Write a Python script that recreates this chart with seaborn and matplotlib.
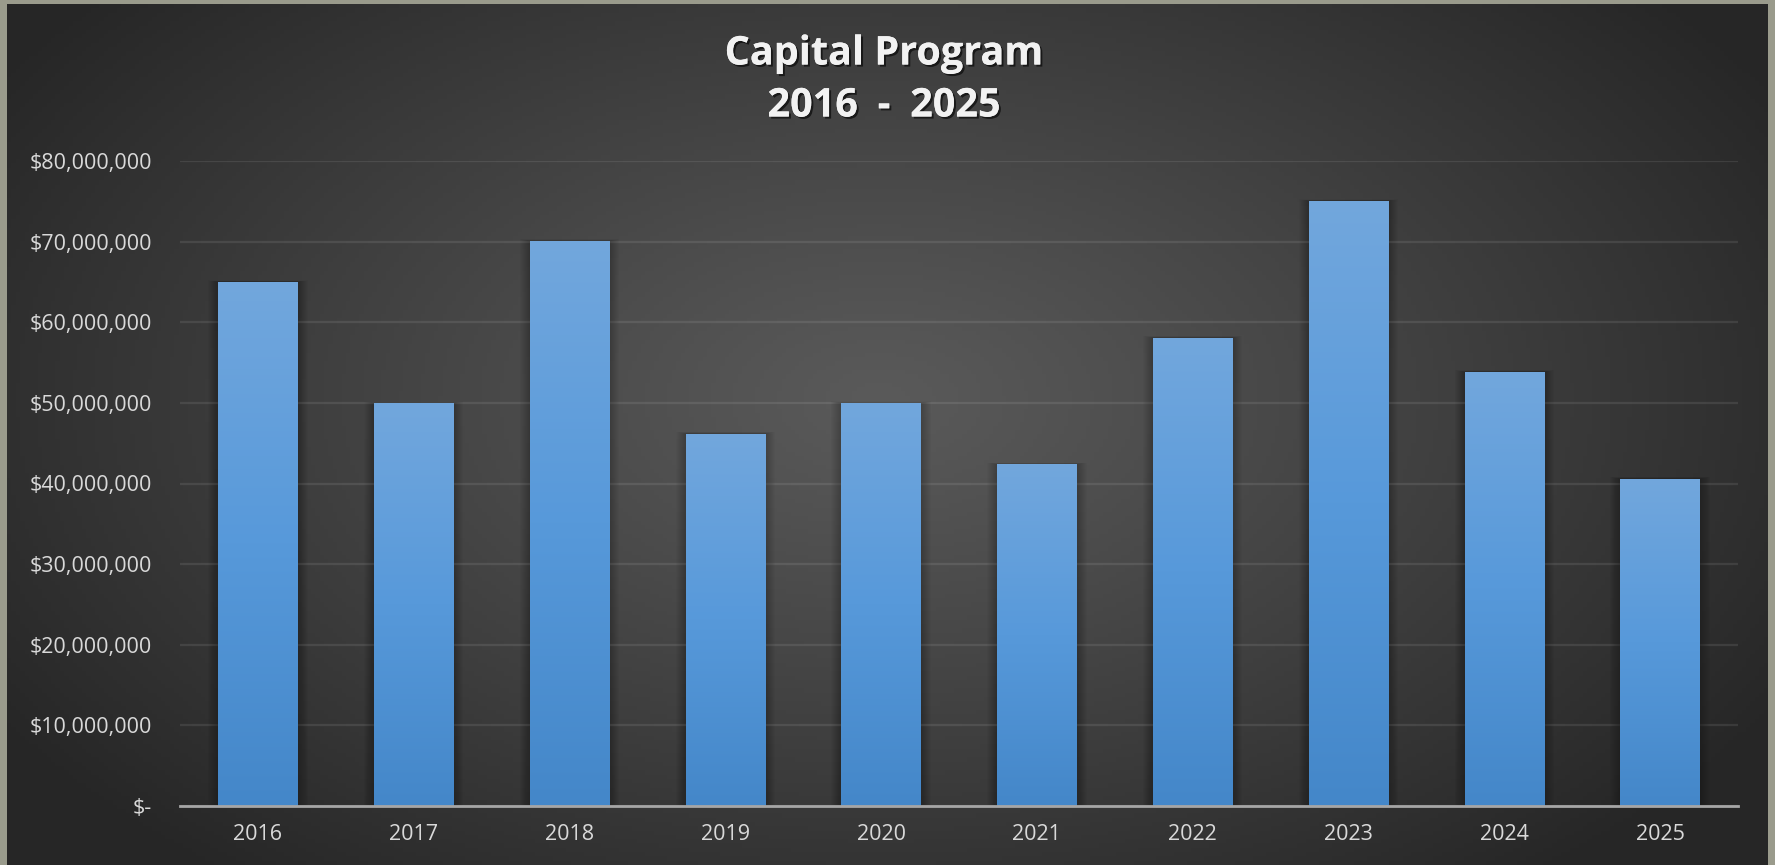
import numpy as np
import pandas as pd
import matplotlib
matplotlib.use("Agg")
import matplotlib.pyplot as plt
import matplotlib.patheffects as pe
from matplotlib.ticker import FuncFormatter
from matplotlib.colors import LinearSegmentedColormap
import seaborn as sns

# Capital program spending by year
years = ["2016", "2017", "2018", "2019", "2020", "2021", "2022", "2023", "2024", "2025"]
amounts = [65_000_000, 50_000_000, 70_100_000, 46_200_000, 50_000_000,
           42_400_000, 58_100_000, 75_050_000, 53_850_000, 40_600_000]
y_ticks = [0, 10_000_000, 20_000_000, 30_000_000, 40_000_000,
           50_000_000, 60_000_000, 70_000_000, 80_000_000]
title_line1 = "Capital Program"
title_line2 = "2016 - 2025"

df = pd.DataFrame({"year": years, "amount": amounts})

sns.set_theme(style="dark")
plt.rcParams["font.family"] = ["Open Sans", "DejaVu Sans"]

W, H = 1775, 865
fig = plt.figure(figsize=(W / 100, H / 100), dpi=100)
fig.patch.set_facecolor("#9a9b8c")

# dark chart panel with a soft radial highlight
bg = fig.add_axes([7 / W, 0, (1768 - 7) / W, (865 - 4) / H], zorder=0)
bg.set_axis_off()
gx = np.linspace(7, 1768, 400)
gy = np.linspace(4, 865, 200)
X, Y = np.meshgrid(gx, gy)
r = np.sqrt(((X - 880) / 1050) ** 2 + ((Y - 400) / 620) ** 2)
r = np.clip(r, 0, 1)
light = np.array([0x5a, 0x5a, 0x5a]) / 255
dark = np.array([0x26, 0x26, 0x26]) / 255
t = r ** 1.1
img = light[None, None, :] * (1 - t[..., None]) + dark[None, None, :] * t[..., None]
bg.imshow(img, extent=[0, 1, 0, 1], aspect="auto", origin="upper")
bg.set_xlim(0, 1)
bg.set_ylim(0, 1)

ax_left, ax_right, ax_top, ax_bottom = 180, 1738, 161, 806
ax = fig.add_axes([ax_left / W, 1 - ax_bottom / H, (ax_right - ax_left) / W,
                   (ax_bottom - ax_top) / H], zorder=1)
ax.patch.set_alpha(0)

sns.barplot(data=df, x="year", y="amount", ax=ax, color="#5b9bd5",
            width=0.51, saturation=1, zorder=3, edgecolor="none", linewidth=0)

ymax = 80_000_000
ax.set_ylim(0, ymax)
ax.set_xlim(-0.5, len(years) - 0.5)
ax.set_yticks(y_ticks)

def money(v, _):
    if v == 0:
        return "$-"
    return f"${v:,.0f}"

ax.yaxis.set_major_formatter(FuncFormatter(money))
ax.set_xlabel("")
ax.set_ylabel("")
ax.tick_params(axis="y", length=0, pad=20, labelsize=15.5, labelcolor="#d9d9d9")
ax.tick_params(axis="x", length=0, pad=13, labelsize=15.5, labelcolor="#d9d9d9")

ax.grid(axis="y", color="#ffffff", alpha=0.09, linewidth=1.6, zorder=0)
ax.grid(axis="x", visible=False)
for s in ["top", "right", "left"]:
    ax.spines[s].set_visible(False)
ax.spines["bottom"].set_color("#a6a6a6")
ax.spines["bottom"].set_linewidth(2)
ax.spines["bottom"].set_zorder(5)

# pixel sizes in data units, for the soft shadow around each bar
px_x = len(years) / (ax_right - ax_left)
px_y = ymax / (ax_bottom - ax_top)

cmap = LinearSegmentedColormap.from_list("barfill", ["#4487c9", "#5799da", "#72a7dd"])
grad = np.linspace(0, 1, 256).reshape(-1, 1)
for bar in list(ax.patches):
    x0, y0 = bar.get_x(), bar.get_y()
    w, h = bar.get_width(), bar.get_height()
    for k in range(1, 11):
        ax.add_patch(plt.Rectangle((x0 - k * px_x, y0), w + 2 * k * px_x,
                                   h + k * 0.15 * px_y, facecolor="black",
                                   edgecolor="none", alpha=0.022, zorder=2))
    im = ax.imshow(grad, extent=[x0, x0 + w, y0, y0 + h], origin="lower",
                   cmap=cmap, aspect="auto", zorder=3.5)
    im.set_clip_path(bar)
ax.set_xlim(-0.5, len(years) - 0.5)
ax.set_ylim(0, ymax)
ax.set_aspect("auto")

title_fx = [pe.withSimplePatchShadow(offset=(1.5, -1.5), alpha=0.6,
                                     shadow_rgbFace="black"), pe.Normal()]
fig.text(884 / W, 1 - 54 / H, title_line1, ha="center", va="center",
         fontsize=28.5, fontweight="bold", color="#f2f2f2", path_effects=title_fx)
fig.text(884 / W, 1 - 106 / H, title_line2.replace(" ", "\u2002"), ha="center", va="center",
         fontsize=28.5, fontweight="bold", color="#f2f2f2", path_effects=title_fx)

fig.savefig("out.png", dpi=100, facecolor=fig.get_facecolor())
